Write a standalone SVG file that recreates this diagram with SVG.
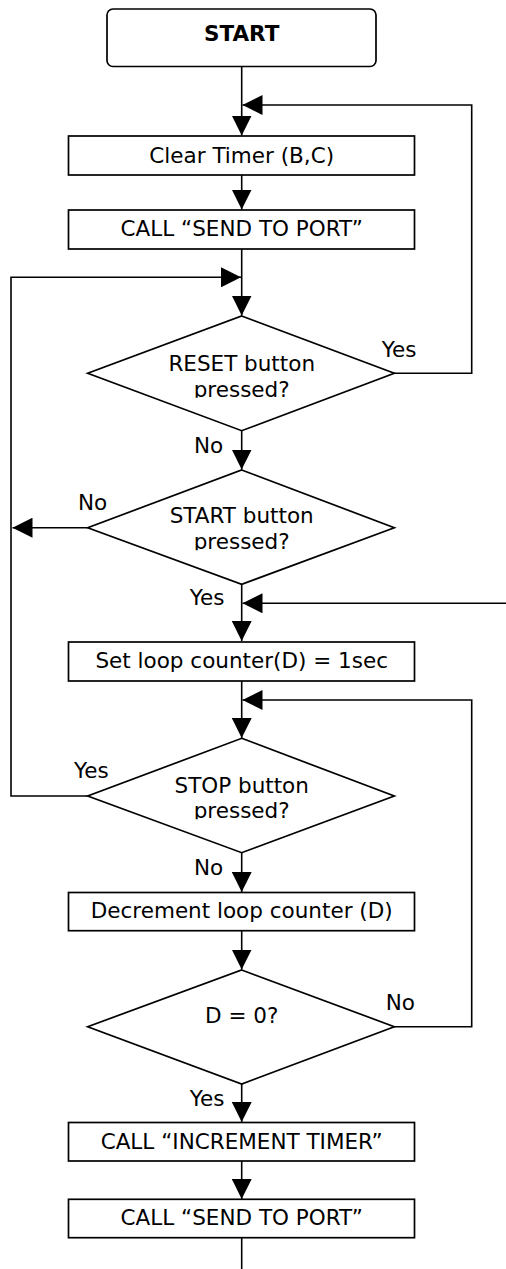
<svg xmlns="http://www.w3.org/2000/svg" width="506" height="1269" viewBox="0 0 506 1269">
<style>
.shape{fill:#fff;stroke:#000;stroke-width:1.7}
.t{font-family:"DejaVu Sans",Verdana,sans-serif;font-size:21.5px;fill:#000;text-anchor:middle}
.b{font-weight:bold}
.lbl{font-family:"DejaVu Sans",Verdana,sans-serif;font-size:21.5px;fill:#000}
.c{fill:none;stroke:#000;stroke-width:1.6}
</style>
<defs>
<marker id="ah" markerUnits="userSpaceOnUse" markerWidth="20" markerHeight="20" refX="20" refY="10" orient="auto">
<path d="M0,0 L20,10 L0,20 z" fill="#000"/>
</marker>
<clipPath id="cr"><rect x="0" y="300" width="506" height="97.7"/></clipPath>
<clipPath id="cs"><rect x="0" y="460" width="506" height="90.3"/></clipPath>
<clipPath id="cp"><rect x="0" y="730" width="506" height="89.3"/></clipPath>
</defs>
<g id="connectors">
<path class="c" d="M241.7,66.5 V135.5" marker-end="url(#ah)"/>
<path class="c" d="M394.3,373.3 H471.7 V105 H242.5" marker-end="url(#ah)"/>
<path class="c" d="M241.7,175 V209.5" marker-end="url(#ah)"/>
<path class="c" d="M241.7,249 V315.5" marker-end="url(#ah)"/>
<path class="c" d="M87.7,796 H11 V277.3 H241" marker-end="url(#ah)"/>
<path class="c" d="M241.7,430.7 V469.5" marker-end="url(#ah)"/>
<path class="c" d="M87.7,527.7 H12.5" marker-end="url(#ah)"/>
<path class="c" d="M241.7,584.3 V641" marker-end="url(#ah)"/>
<path class="c" d="M506,603.3 H242.5" marker-end="url(#ah)"/>
<path class="c" d="M241.7,681 V738" marker-end="url(#ah)"/>
<path class="c" d="M394.3,1026.7 H471.7 V700 H242.5" marker-end="url(#ah)"/>
<path class="c" d="M241.7,852.7 V892" marker-end="url(#ah)"/>
<path class="c" d="M241.7,930.7 V969.5" marker-end="url(#ah)"/>
<path class="c" d="M241.7,1084 V1122" marker-end="url(#ah)"/>
<path class="c" d="M241.7,1161 V1199" marker-end="url(#ah)"/>
<path class="c" d="M241.7,1238 V1269"/>
<text class="lbl" x="381.7" y="356.7">Yes</text>
<text class="lbl" x="194" y="452.7">No</text>
<text class="lbl" x="78" y="510">No</text>
<text class="lbl" x="189.7" y="605">Yes</text>
<text class="lbl" x="74" y="778.3">Yes</text>
<text class="lbl" x="194" y="875">No</text>
<text class="lbl" x="385.7" y="1010">No</text>
<text class="lbl" x="189.7" y="1105.7">Yes</text>
</g>
<g id="start">
<rect class="shape" x="107" y="9" width="269" height="57.5" rx="6"/>
<text class="t b" x="241.7" y="40.5">START</text>
</g>
<g id="clear-timer">
<rect class="shape" x="68.5" y="136" width="346" height="39"/>
<text class="t" x="241.7" y="162.5">Clear Timer (B,C)</text>
</g>
<g id="send-to-port-1">
<rect class="shape" x="68.5" y="210" width="346" height="39"/>
<text class="t" x="241.7" y="236.3">CALL “SEND TO PORT”</text>
</g>
<g id="reset-decision">
<polygon class="shape" points="241.7,316 394.3,373.3 241.7,430.7 87.7,373.3"/>
<g clip-path="url(#cr)">
<text class="t" x="241.7" y="370.7">RESET button</text>
<text class="t" x="241.7" y="396.7">pressed?</text>
</g>
</g>
<g id="start-decision">
<polygon class="shape" points="241.7,470 394.3,527.7 241.7,584.3 87.7,527.7"/>
<g clip-path="url(#cs)">
<text class="t" x="241.7" y="523.3">START button</text>
<text class="t" x="241.7" y="549.3">pressed?</text>
</g>
</g>
<g id="set-loop-counter">
<rect class="shape" x="68.5" y="642" width="346" height="39"/>
<text class="t" x="241.7" y="668.3">Set loop counter(D) = 1sec</text>
</g>
<g id="stop-decision">
<polygon class="shape" points="241.7,738.3 394.3,796 241.7,852.7 87.7,796"/>
<g clip-path="url(#cp)">
<text class="t" x="241.7" y="792.7">STOP button</text>
<text class="t" x="241.7" y="818.3">pressed?</text>
</g>
</g>
<g id="decrement">
<rect class="shape" x="68.5" y="892.5" width="346" height="38.2"/>
<text class="t" x="241.7" y="918">Decrement loop counter (D)</text>
</g>
<g id="d-zero-decision">
<polygon class="shape" points="241.7,970 394.3,1026.7 241.7,1084 87.7,1026.7"/>
<text class="t" x="241.7" y="1023.3">D = 0?</text>
</g>
<g id="increment-timer">
<rect class="shape" x="68.5" y="1122.5" width="346" height="38.5"/>
<text class="t" x="241.7" y="1148.5">CALL “INCREMENT TIMER”</text>
</g>
<g id="send-to-port-2">
<rect class="shape" x="68.5" y="1199.3" width="346" height="38.4"/>
<text class="t" x="241.7" y="1225.3">CALL “SEND TO PORT”</text>
</g>
</svg>
